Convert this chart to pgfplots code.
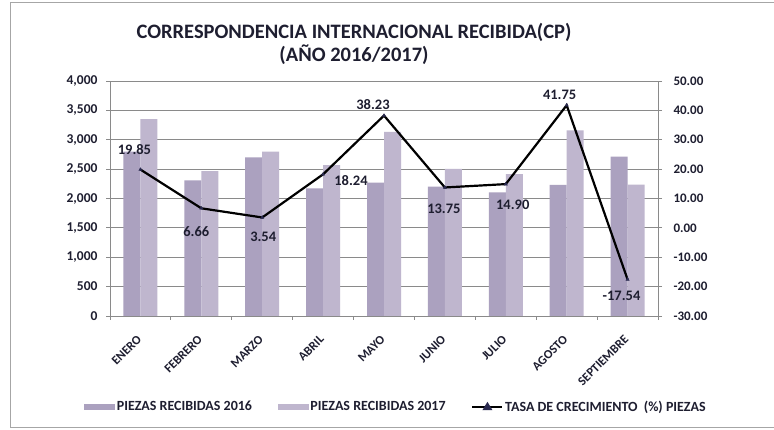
\documentclass[border=0pt]{standalone}
\usepackage{pgfplots}
\pgfplotsset{compat=1.18}
\usepackage{fontspec}
\setmainfont{Carlito}
\definecolor{barA}{HTML}{ABA1BF}
\definecolor{barB}{HTML}{BFB6CE}
\definecolor{gridc}{HTML}{8A8A8A}
\definecolor{mk}{HTML}{2A2A50}
\definecolor{txt}{HTML}{1E1E30}
\begin{document}
\begin{tikzpicture}
\useasboundingbox (0pt,0pt) rectangle (774pt,430pt);
\fill[white] (0pt,0pt) rectangle (774pt,430pt);
\draw[gray!70, line width=1pt] (774pt,427pt) -- (10pt,427pt) -- (10pt,2pt) -- (774pt,2pt);
\node[align=center, text=txt, font=\fontsize{20.5}{22.5}\selectfont\bfseries] at (354pt,386pt) {CORRESPONDENCIA INTERNACIONAL RECIBIDA(CP)\\(AÑO 2016/2017)};
\begin{axis}[
  at={(110pt,114pt)}, anchor=south west,
  scale only axis, width=548pt, height=235pt,
  xmin=-0.5, xmax=8.5, ymin=0, ymax=4000,
  ytick={0,500,...,4000},
  axis y line*=left,
  axis x line*=bottom,
  xtick={0,...,8},
  xticklabels={ENERO,FEBRERO,MARZO,ABRIL,MAYO,JUNIO,JULIO,AGOSTO,SEPTIEMBRE},
  minor xtick={-0.5,0.5,...,8.5},
  x tick style={draw=none},
  minor x tick style={draw=gridc, line width=0.8pt},
  minor tick length=4pt,
  tick align=outside,
  major tick length=4pt,
  y tick style={draw=gridc, line width=0.8pt},
  axis line style={gridc, line width=0.8pt},
  ymajorgrids, grid style={gridc, line width=0.8pt},
  x tick label style={rotate=45, anchor=north east, inner sep=0pt, xshift=-13pt, yshift=-7pt, text=txt, font=\fontsize{12.5}{14}\selectfont\bfseries},
  y tick label style={font=\fontsize{13.5}{15}\selectfont\bfseries, text=txt, xshift=-5pt},
  /pgf/number format/assume math mode=true,
  yticklabel style={/pgf/number format/fixed, /pgf/number format/1000 sep={,}},
  scaled y ticks=false,
  clip=false,
]
\addplot[ybar, bar width=17pt, bar shift=-8.5pt, fill=barA, draw=none] coordinates {
(0,2797) (1,2310) (2,2700) (3,2173) (4,2269) (5,2200) (6,2105) (7,2230) (8,2712)};
\addplot[ybar, bar width=17pt, bar shift=8.5pt, fill=barB, draw=none] coordinates {
(0,3352) (1,2464) (2,2796) (3,2569) (4,3136) (5,2503) (6,2416) (7,3161) (8,2236)};
\draw[gridc, line width=0.8pt] (axis description cs:0,1) -- (axis description cs:1,1);
\end{axis}
\begin{axis}[
  at={(110pt,114pt)}, anchor=south west,
  scale only axis, width=548pt, height=235pt,
  xmin=-0.5, xmax=8.5, ymin=-30, ymax=50,
  ytick={-30,-20,...,50},
  axis y line*=right,
  axis x line=none,
  tick align=outside,
  major tick length=4pt,
  y tick style={draw=gridc, line width=0.8pt},
  axis line style={gridc, line width=0.8pt},
  y tick label style={font=\fontsize{13}{15}\selectfont\bfseries, text=txt, xshift=8pt},
  /pgf/number format/assume math mode=true,
  yticklabel style={/pgf/number format/fixed, /pgf/number format/fixed zerofill, /pgf/number format/precision=2},
  clip=false,
  legend columns=3,
  legend style={at={(0.522,-0.387)}, anchor=center, draw=none, fill=none, text=txt,
    font=\fontsize{14}{15}\selectfont\bfseries, /tikz/every even column/.append style={column sep=24pt},
    /tikz/every odd column/.append style={column sep=0pt}},
]
\addlegendimage{legend image code/.code={\fill[barA] (0pt,-2.5pt) rectangle (30pt,2.5pt);}}
\addlegendentry{PIEZAS RECIBIDAS 2016}
\addlegendimage{legend image code/.code={\fill[barB] (0pt,-2.5pt) rectangle (30pt,2.5pt);}}
\addlegendentry{PIEZAS RECIBIDAS 2017}
\addplot[black, line width=2.2pt, mark=triangle*, mark options={fill=mk, draw=mk, scale=0.9, line width=0.5pt},
  nodes near coords, point meta=explicit symbolic,
  visualization depends on={value \thisrow{anc} \as \anc},
  visualization depends on={\thisrow{dx} \as \dx},
  visualization depends on={\thisrow{dy} \as \dy},
  every node near coord/.append style={anchor=\anc, xshift=\dx pt, yshift=\dy pt, font=\fontsize{14.5}{16}\selectfont\bfseries, text=txt, inner sep=1pt},
  legend image code/.code={\draw[black, line width=1.6pt] (0pt,0pt) -- (30pt,0pt); \fill[mk] (15pt,0pt) ++(0,3pt) -- ++(-3pt,-5pt) -- ++(6pt,0) -- cycle;}
] table[meta=lab] {
x y lab anc dx dy
0 19.85 19.85 south -6 14
1 6.66 6.66 north -5 -17
2 3.54 3.54 north 1 -13
3 18.24 18.24 west 10 -6
4 38.23 38.23 south -11 5
5 13.75 13.75 north -1 -15
6 14.90 14.90 north 7 -15
7 41.75 41.75 south -7 4
8 -17.54 -17.54 north -6 -10
};
\addlegendentry{TASA DE CRECIMIENTO\ \ (\%) PIEZAS}
\end{axis}
\end{tikzpicture}
\end{document}
